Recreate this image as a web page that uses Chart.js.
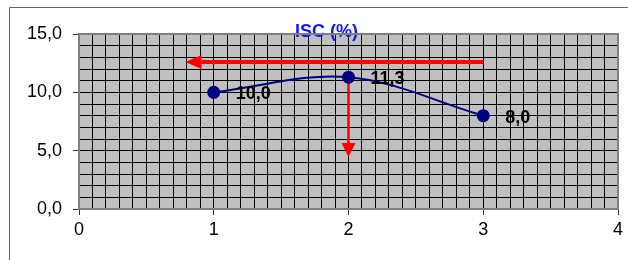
<!DOCTYPE html>
<html>
<head>
<meta charset="utf-8">
<script src="https://cdn.jsdelivr.net/npm/chart.js@4"></script>
<style>
  html, body { margin: 0; padding: 0; background: #fff; }
  canvas { display: block; }
</style>
</head>
<body>
<canvas id="iscChart" width="628" height="260"></canvas>
<script>
// data
const xValues = [1, 2, 3];
const iscValues = [10.0, 11.3, 8.0];
const xTickLabels = ['0', '1', '2', '3', '4'];
const yTickLabels = ['0,0', '5,0', '10,0', '15,0'];
const chartTitle = 'ISC (%)';

// red arrows (value space)
const arrowLeftX = [3, 0.79];
const arrowLeftY = [12.6, 12.6];
const arrowDownX = [2, 2];
const arrowDownY = [11.8, 4.45];

const FONT = '"Liberation Sans", Arial, sans-serif';

function isWhole(v, step) {
    return Math.abs(v / step - Math.round(v / step)) < 1e-6;
}

// plot background + top/right frame
const plotFrame = {
    id: 'plotFrame',
    beforeDraw(chart) {
        const { ctx, chartArea: a } = chart;
        ctx.save();
        ctx.fillStyle = '#c0c0c0';
        ctx.fillRect(a.left, a.top, a.right - a.left, a.bottom - a.top);
        ctx.restore();
    },
    afterDraw(chart) {
        const { ctx, chartArea: a } = chart;
        ctx.save();
        ctx.strokeStyle = '#808080';
        ctx.lineWidth = 2;
        ctx.beginPath();
        ctx.moveTo(a.left, a.top);
        ctx.lineTo(a.right, a.top);
        ctx.lineTo(a.right, a.bottom);
        ctx.stroke();
        // outer chart border
        ctx.lineWidth = 1;
        ctx.strokeStyle = '#666';
        ctx.beginPath();
        ctx.moveTo(9.5, 300);
        ctx.lineTo(9.5, 7.5);
        ctx.lineTo(640, 7.5);
        ctx.stroke();
        ctx.restore();
    }
};

function drawArrow(ctx, x1, y1, x2, y2, width, headLen, headHalf) {
    const ang = Math.atan2(y2 - y1, x2 - x1);
    const bx = x2 - headLen * Math.cos(ang);
    const by = y2 - headLen * Math.sin(ang);
    ctx.lineWidth = width;
    ctx.beginPath();
    ctx.moveTo(x1, y1);
    ctx.lineTo(bx, by);
    ctx.stroke();
    ctx.beginPath();
    ctx.moveTo(x2, y2);
    ctx.lineTo(bx + headHalf * Math.sin(ang), by - headHalf * Math.cos(ang));
    ctx.lineTo(bx - headHalf * Math.sin(ang), by + headHalf * Math.cos(ang));
    ctx.closePath();
    ctx.fill();
}

// arrows under the series, labels and title on top
const overlays = {
    id: 'overlays',
    beforeDatasetsDraw(chart) {
        const { ctx, scales: { x, y } } = chart;
        ctx.save();
        ctx.strokeStyle = '#ff0000';
        ctx.fillStyle = '#ff0000';
        drawArrow(ctx,
            x.getPixelForValue(arrowDownX[0]), y.getPixelForValue(arrowDownY[0]),
            x.getPixelForValue(arrowDownX[1]), y.getPixelForValue(arrowDownY[1]),
            2.5, 14, 7);
        ctx.restore();
    },
    afterDatasetsDraw(chart) {
        const { ctx, scales: { x, y } } = chart;
        ctx.save();
        ctx.strokeStyle = '#ff0000';
        ctx.fillStyle = '#ff0000';
        drawArrow(ctx,
            x.getPixelForValue(arrowLeftX[0]), y.getPixelForValue(arrowLeftY[0]),
            x.getPixelForValue(arrowLeftX[1]), y.getPixelForValue(arrowLeftY[1]),
            4, 16, 7);

        // value labels
        const meta = chart.getDatasetMeta(0);
        ctx.fillStyle = '#000';
        ctx.font = 'bold 18px ' + FONT;
        ctx.textAlign = 'left';
        ctx.textBaseline = 'middle';
        meta.data.forEach((pt, i) => {
            ctx.fillText(iscValues[i].toFixed(1).replace('.', ','), pt.x + 22, pt.y + 2);
        });

        // title
        ctx.fillStyle = '#1414ff';
        ctx.font = 'bold 18px ' + FONT;
        ctx.textAlign = 'center';
        ctx.fillText(chartTitle, chart.width * 0.52, 32);
        ctx.restore();
    }
};

const ctx = document.getElementById('iscChart').getContext('2d');
new Chart(ctx, {
    type: 'scatter',
    data: {
        datasets: [{
            data: xValues.map((v, i) => ({ x: v, y: iscValues[i] })),
            showLine: true,
            tension: 0.35,
            borderColor: '#000080',
            borderWidth: 2,
            pointRadius: 6.5,
            pointBackgroundColor: '#000080',
            pointBorderColor: '#000080',
            pointBorderWidth: 0
        }]
    },
    options: {
        responsive: false,
        animation: false,
        devicePixelRatio: 1,
        layout: { padding: { top: 34, right: 10, left: 0, bottom: 0 } },
        plugins: {
            legend: { display: false },
            tooltip: { enabled: false }
        },
        scales: {
            x: {
                type: 'linear',
                min: 0,
                max: 4,
                afterFit: (s) => { s.height = 51; },
                border: { color: '#808080', width: 2 },
                grid: {
                    color: '#000',
                    lineWidth: 1,
                    tickLength: 6,
                    tickColor: (c) => (c.tick && isWhole(c.tick.value, 1)) ? '#333' : 'rgba(0,0,0,0)'
                },
                ticks: {
                    stepSize: 0.1,
                    maxTicksLimit: 100,
                    autoSkip: false,
                    maxRotation: 0,
                    padding: 4,
                    color: '#000',
                    font: { family: FONT, size: 18 },
                    callback: (v) => isWhole(v, 1) ? xTickLabels[Math.round(v)] : ''
                }
            },
            y: {
                min: 0,
                max: 15,
                afterFit: (s) => { s.width = 79; },
                border: { color: '#808080', width: 2 },
                grid: {
                    color: '#000',
                    lineWidth: 1,
                    tickLength: 6,
                    tickColor: (c) => (c.tick && isWhole(c.tick.value, 5)) ? '#333' : 'rgba(0,0,0,0)'
                },
                ticks: {
                    stepSize: 1,
                    maxTicksLimit: 100,
                    autoSkip: false,
                    padding: 11,
                    color: '#000',
                    font: { family: FONT, size: 18 },
                    callback: (v) => isWhole(v, 5) ? yTickLabels[Math.round(v / 5)] : ''
                }
            }
        }
    },
    plugins: [plotFrame, overlays]
});
</script>
</body>
</html>
